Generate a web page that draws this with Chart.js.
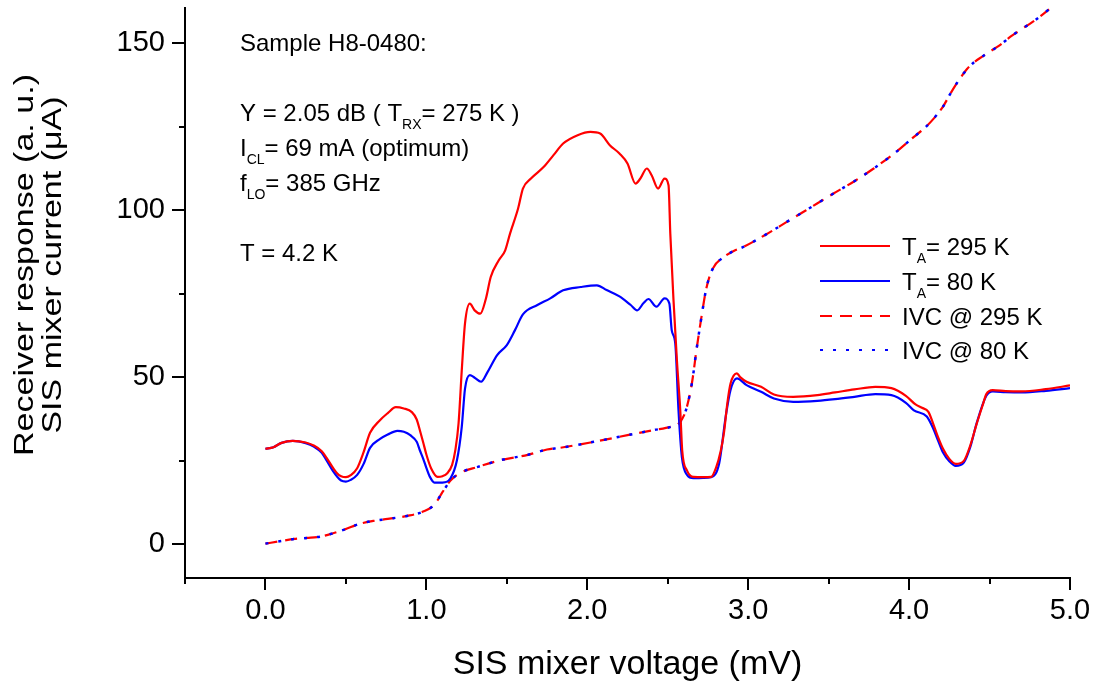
<!DOCTYPE html>
<html>
<head>
<meta charset="utf-8">
<script src="https://cdn.jsdelivr.net/npm/chart.js@4/dist/chart.umd.min.js"></script>
<style>
  html, body { margin: 0; padding: 0; background: #fff; }
  #wrap { width: 1098px; height: 690px; }
</style>
</head>
<body>
<div id="wrap"><canvas id="chart" width="1098" height="690"></canvas></div>
<script>
// receiver response, T_A = 295 K (hot load)
const hotV = [0.00,0.05,0.10,0.17,0.25,0.30,0.35,0.38,0.42,0.445,0.47,0.50,0.53,0.57,0.61,0.65,0.71,0.76,0.81,0.86,0.91,0.94,0.96,0.98,1.00,1.03,1.07,1.10,1.13,1.16,1.18,1.20,1.22,1.24,1.27,1.30,1.335,1.37,1.40,1.45,1.49,1.52,1.57,1.60,1.65,1.73,1.79,1.85,1.94,2.02,2.08,2.14,2.20,2.25,2.30,2.33,2.37,2.40,2.44,2.48,2.505,2.516,2.536,2.557,2.578,2.59,2.62,2.66,2.72,2.77,2.80,2.83,2.85,2.87,2.89,2.93,2.95,2.99,3.08,3.16,3.28,3.43,3.54,3.66,3.79,3.89,3.98,4.04,4.08,4.12,4.15,4.18,4.21,4.25,4.29,4.34,4.38,4.42,4.46,4.48,4.52,4.60,4.70,4.85,5.00]
const hotResp = [28.5,29.0,30.3,30.9,30.4,29.5,27.8,25.8,22.8,21.2,20.3,20.0,20.6,22.7,27.5,33.3,37.0,39.2,41.0,40.6,39.5,37.3,34.0,30.5,26.8,22.6,20.1,20.3,21.2,23.7,28.1,36.1,52,66,72,70,69,73.5,80,85,88,93,100.5,106.5,109.5,113,116.5,120,122.5,123.5,123,119.5,117,114,108,109.5,112.5,110.5,106.5,109.5,107.5,93,73,55,40,28,22,20.1,20.0,20.1,22.8,28.0,33.5,42.0,48.0,51.1,50.0,48.6,47.1,44.8,44.1,44.6,45.4,46.3,47.1,46.7,44.4,41.8,40.8,39.6,36.0,32.0,28.6,25.5,24.0,24.9,29.5,36.0,42.0,44.9,46.1,45.8,45.7,46.4,47.5]

// receiver response, T_A = 80 K (cold load)
const coldV = [0.00,0.05,0.10,0.17,0.25,0.30,0.35,0.38,0.42,0.445,0.47,0.50,0.53,0.57,0.61,0.65,0.71,0.76,0.82,0.86,0.90,0.94,0.96,0.98,1.00,1.02,1.05,1.10,1.15,1.19,1.22,1.24,1.27,1.30,1.34,1.38,1.44,1.50,1.55,1.60,1.69,1.77,1.85,1.96,2.06,2.12,2.20,2.27,2.31,2.35,2.38,2.43,2.48,2.51,2.525,2.547,2.567,2.588,2.62,2.66,2.72,2.77,2.82,2.86,2.89,2.93,2.99,3.08,3.16,3.28,3.43,3.54,3.66,3.79,3.89,3.98,4.03,4.11,4.15,4.18,4.21,4.25,4.29,4.34,4.38,4.42,4.48,4.52,4.60,4.70,4.85,5.00]
const coldResp = [28.5,29.0,30.3,30.9,30.2,29.2,27.3,25.0,21.8,20.2,19.0,18.7,19.2,20.7,24.0,28.8,31.4,32.8,33.9,33.6,32.6,30.6,28.0,25.6,22.8,20.3,18.4,18.4,19.7,25.1,35.1,46.5,50.6,49.8,48.6,51.5,56.6,59.6,64.0,68.8,71.6,73.6,76.0,77.0,77.5,76.1,74.2,71.6,70.0,72.2,73.4,71.1,73.6,72.1,64,60,40,26,20.7,19.7,19.8,20.0,24.2,38.1,46.1,49.6,47.6,45.6,43.6,42.6,42.9,43.4,44.1,44.9,44.6,42.3,40.0,38.2,34.6,31.0,27.5,24.8,23.4,24.4,29.0,36.2,44.4,45.7,45.5,45.4,45.9,46.7]

// pumped IV curve (both loads lie on top of each other)
const ivcV = [0.00,0.10,0.18,0.26,0.34,0.42,0.49,0.59,0.67,0.76,0.88,0.98,1.05,1.10,1.15,1.21,1.32,1.46,1.63,1.75,1.83,2.04,2.25,2.41,2.52,2.567,2.61,2.65,2.68,2.71,2.74,2.78,2.85,2.91,2.97,3.12,3.24,3.36,3.53,3.66,3.78,3.92,4.03,4.10,4.15,4.21,4.255,4.30,4.36,4.40,4.46,4.50,4.56,4.63,4.70,4.77,4.87]
const ivcI = [0.1,0.9,1.5,1.8,2.2,3.2,4.3,6.1,6.9,7.5,8.4,9.7,11.8,15.5,19.0,21.3,23.1,25.1,26.7,28.3,28.8,30.6,32.6,34.1,35.1,36.0,39.6,48.1,58.6,68.1,76.6,82.5,86.0,87.8,89.0,93.0,96.5,100.0,105.0,108.7,112.5,117.5,122.0,124.8,127.3,131,134.8,138.3,142.3,144.2,146.2,147.5,149.3,152,154.3,156.5,160.2]

const xTicks = [-0.5,0,0.5,1,1.5,2,2.5,3,3.5,4,4.5,5]
const xLabels = ['','0.0','','1.0','','2.0','','3.0','','4.0','','5.0']
const yTicks = [0,25,50,75,100,125,150]
const yLabels = ['0','','50','','100','','150']

const FONT = '"Liberation Sans", Arial, Helvetica, sans-serif'

const pts = (xs, ys) => xs.map((v, i) => ({ x: v, y: ys[i] }))

// text with subscripts: plain strings, or [string] for subscript
function richText(ctx, x, y, parts, size) {
  let cx = x
  for (const p of parts) {
    const sub = Array.isArray(p)
    const txt = sub ? p[0] : p
    ctx.font = (sub ? Math.round(size * 0.6) : size) + 'px ' + FONT
    ctx.fillText(txt, cx, sub ? y + size * 0.33 : y)
    cx += ctx.measureText(txt).width
  }
}

const decorations = {
  id: 'decorations',
  afterDraw(chart) {
    const { ctx, scales: { x, y }, chartArea: a } = chart
    ctx.save()

    // tick marks, outside the axes
    ctx.strokeStyle = '#000'
    ctx.lineWidth = 2
    ctx.beginPath()
    xTicks.forEach(v => {
      const px = Math.round(x.getPixelForValue(v))
      const len = Number.isInteger(v) ? 12 : 6
      ctx.moveTo(px, a.bottom)
      ctx.lineTo(px, a.bottom + len)
    })
    yTicks.forEach(v => {
      const py = Math.round(y.getPixelForValue(v))
      const len = v % 50 === 0 ? 13 : 6
      ctx.moveTo(a.left, py)
      ctx.lineTo(a.left - len, py)
    })
    ctx.stroke()

    ctx.fillStyle = '#000'
    ctx.textBaseline = 'alphabetic'
    ctx.textAlign = 'left'

    // y axis title, two lines rotated (stretched along its length like the original)
    ctx.save()
    ctx.translate(0, 265)
    ctx.rotate(-Math.PI / 2)
    ctx.scale(1.26, 1)
    ctx.textAlign = 'center'
    ctx.font = '27px ' + FONT
    ctx.fillText('Receiver response (a. u.)', 0, 33)
    ctx.fillText('SIS mixer current (\u03BCA)', 0, 61)
    ctx.restore()

    // sample notes
    const s = 24
    richText(ctx, 240, 51, ['Sample H8-0480:'], s)
    richText(ctx, 240, 121, ['Y = 2.05 dB ( T', ['RX'], '= 275 K )'], s)
    richText(ctx, 240, 156, ['I', ['CL'], '= 69 mA (optimum)'], s)
    richText(ctx, 240, 191, ['f', ['LO'], '= 385 GHz'], s)
    richText(ctx, 240, 261, ['T = 4.2 K'], s)

    // legend
    const rows = [
      { y: 246, color: '#ff0000', dash: [], text: ['T', ['A'], '= 295 K'] },
      { y: 281, color: '#0000ff', dash: [], text: ['T', ['A'], '= 80 K'] },
      { y: 316, color: '#ff0000', dash: [12, 8], text: ['IVC @ 295 K'] },
      { y: 350, color: '#0000ff', dash: [3, 10], text: ['IVC @ 80 K'] }
    ]
    rows.forEach(r => {
      ctx.strokeStyle = r.color
      ctx.lineWidth = 2.2
      ctx.setLineDash(r.dash)
      ctx.beginPath()
      ctx.moveTo(820, r.y)
      ctx.lineTo(890, r.y)
      ctx.stroke()
      ctx.setLineDash([])
      richText(ctx, 902, r.y + 9, r.text, s)
    })

    ctx.restore()
  }
}

const ctx = document.getElementById('chart')

new Chart(ctx, {
  type: 'line',
  data: {
    datasets: [
      { label: 'T_A= 295 K', data: pts(hotV, hotResp), borderColor: '#ff0000', borderWidth: 2.2, order: 0 },
      { label: 'T_A= 80 K', data: pts(coldV, coldResp), borderColor: '#0000ff', borderWidth: 2.2, order: 1 },
      { label: 'IVC @ 80 K', data: pts(ivcV, ivcI), borderColor: '#0000ff', borderWidth: 2.5, borderDash: [3, 10], order: 2 },
      { label: 'IVC @ 295 K', data: pts(ivcV, ivcI), borderColor: '#ff0000', borderWidth: 2.2, borderDash: [12, 8], order: 3 }
    ]
  },
  options: {
    responsive: false,
    animation: false,
    devicePixelRatio: 1,
    layout: { padding: { left: 0, top: 8, right: 28, bottom: 0 } },
    elements: {
      point: { radius: 0 },
      line: { cubicInterpolationMode: 'monotone', fill: false }
    },
    plugins: {
      legend: { display: false },
      tooltip: { enabled: false }
    },
    scales: {
      x: {
        type: 'linear',
        min: -0.5,
        max: 5.0,
        afterBuildTicks: s => { s.ticks = xTicks.map(v => ({ value: v })) },
        afterFit: s => { s.height = 112; s.paddingLeft = 0; s.paddingRight = 0 },
        ticks: {
          autoSkip: false,
          maxRotation: 0,
          padding: 16,
          color: '#000',
          font: { family: FONT, size: 29 },
          callback: (v, i) => xLabels[i]
        },
        grid: { display: false, drawTicks: false },
        border: { display: true, color: '#000', width: 2 },
        title: {
          display: true,
          text: 'SIS mixer voltage (mV)',
          color: '#000',
          font: { family: FONT, size: 34 },
          padding: { top: 0, bottom: 5 }
        }
      },
      y: {
        type: 'linear',
        min: -10.2,
        max: 160.6,
        afterBuildTicks: s => { s.ticks = yTicks.map(v => ({ value: v })) },
        afterFit: s => { s.width = 185; s.paddingTop = 0; s.paddingBottom = 0 },
        ticks: {
          autoSkip: false,
          padding: 20,
          color: '#000',
          font: { family: FONT, size: 29 },
          callback: (v, i) => yLabels[i]
        },
        grid: { display: false, drawTicks: false },
        border: { display: true, color: '#000', width: 2 }
      }
    }
  },
  plugins: [decorations]
})
</script>
</body>
</html>
